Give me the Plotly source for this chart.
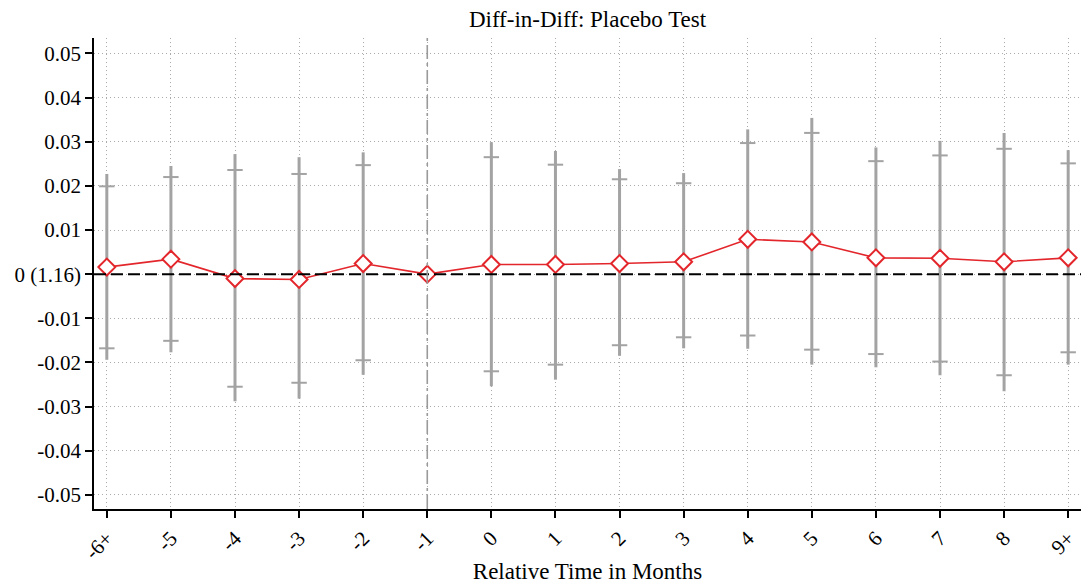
import plotly.graph_objects as go

# Event-time labels and estimates (reference period -1 normalised to 0)
periods = ["-6+", "-5", "-4", "-3", "-2", "-1", "0", "1", "2", "3", "4", "5", "6", "7", "8", "9+"]
coef = [0.0016, 0.0034, -0.0010, -0.0012, 0.0024, 0.0, 0.0022, 0.0022, 0.0024, 0.0028,
        0.0079, 0.0073, 0.0037, 0.0036, 0.0028, 0.0037]
# inner confidence band (marked with short ticks)
ci_lo_in = [-0.0168, -0.0151, -0.0255, -0.0246, -0.0195, None, -0.0220, -0.0205, -0.0161, -0.0143,
            -0.0139, -0.0171, -0.0181, -0.0198, -0.0229, -0.0177]
ci_hi_in = [0.0199, 0.0220, 0.0236, 0.0227, 0.0247, None, 0.0265, 0.0248, 0.0215, 0.0206,
            0.0297, 0.0320, 0.0256, 0.0269, 0.0284, 0.0251]
# outer confidence band (full extent of the bar)
ci_lo_out = [-0.0194, -0.0177, -0.0288, -0.0282, -0.0228, None, -0.0254, -0.0239, -0.0185, -0.0168,
             -0.0169, -0.0205, -0.0211, -0.0229, -0.0265, -0.0205]
ci_hi_out = [0.0227, 0.0245, 0.0272, 0.0265, 0.0276, None, 0.0299, 0.0279, 0.0238, 0.0229,
             0.0328, 0.0354, 0.0287, 0.0302, 0.0320, 0.0281]
ref_period = "-1"
baseline_label = "0 (1.16)"

xs = list(range(len(periods)))
GREY = "#a3a3a3"
RED = "#e3262b"
FONT = "Liberation Serif"
tickfont = dict(family=FONT, size=21, color="black")

fig = go.Figure()

# outer CI bars
idx = [i for i in xs if ci_lo_out[i] is not None]
mid = [(ci_lo_out[i] + ci_hi_out[i]) / 2 for i in idx]
fig.add_trace(go.Scatter(
    x=idx, y=mid, mode="markers", marker=dict(size=0.1, color="rgba(0,0,0,0)"),
    error_y=dict(type="data", symmetric=False,
                 array=[ci_hi_out[i] - m for i, m in zip(idx, mid)],
                 arrayminus=[m - ci_lo_out[i] for i, m in zip(idx, mid)],
                 color=GREY, thickness=3, width=0),
    hoverinfo="skip", showlegend=False))

# inner CI tick marks
tick_x = idx + idx
tick_y = [ci_lo_in[i] for i in idx] + [ci_hi_in[i] for i in idx]
fig.add_trace(go.Scatter(
    x=tick_x, y=tick_y, mode="markers",
    marker=dict(symbol="line-ew-open", size=11, color=GREY, line=dict(color=GREY, width=2)),
    hoverinfo="skip", showlegend=False))

# zero line
fig.add_hline(y=0, line=dict(color="black", width=2, dash="12px,5px"), layer="above")
# reference period line
fig.add_vline(x=periods.index(ref_period), line=dict(color="#9a9a9a", width=1.6, dash="14px,4px,3px,4px"))

# point estimates
fig.add_trace(go.Scatter(
    x=xs, y=coef, mode="lines+markers",
    line=dict(color=RED, width=1.6),
    marker=dict(symbol="diamond", size=13, color="white", line=dict(color=RED, width=2)),
    showlegend=False))

yticks = [-0.05, -0.04, -0.03, -0.02, -0.01, 0, 0.01, 0.02, 0.03, 0.04, 0.05]
ytext = [baseline_label if v == 0 else f"{v:.2f}" for v in yticks]

grid = dict(showgrid=True, gridcolor="#aaaaaa", griddash="1px,3px", gridwidth=1)

fig.update_layout(
    width=1083, height=584,
    margin=dict(l=94, r=2, t=38, b=72),
    paper_bgcolor="white", plot_bgcolor="white",
    font=dict(family=FONT, size=21, color="black"),
    title=dict(text="Diff-in-Diff: Placebo Test", x=0.5425, xanchor="center",
               y=0.968, yanchor="middle", font=dict(family=FONT, size=23, color="black")),
    xaxis=dict(range=[-0.2, 15.2], tickvals=xs, ticktext=periods, tickangle=-45,
               tickfont=tickfont,
               showline=True, linecolor="black", linewidth=1.5, mirror=False,
               ticks="outside", ticklen=7, tickcolor="black", tickwidth=1.5,
               zeroline=False,
               title=dict(text="Relative Time in Months", standoff=2,
                          font=dict(family=FONT, size=23, color="black")),
               **grid),
    yaxis=dict(range=[-0.0532, 0.0535], tickvals=yticks, ticktext=ytext,
               tickfont=tickfont,
               showline=True, linecolor="black", linewidth=1.5,
               ticks="outside", ticklen=7, tickcolor="black", tickwidth=1.5,
               zeroline=False, **grid),
)

fig.write_html("out.html")
